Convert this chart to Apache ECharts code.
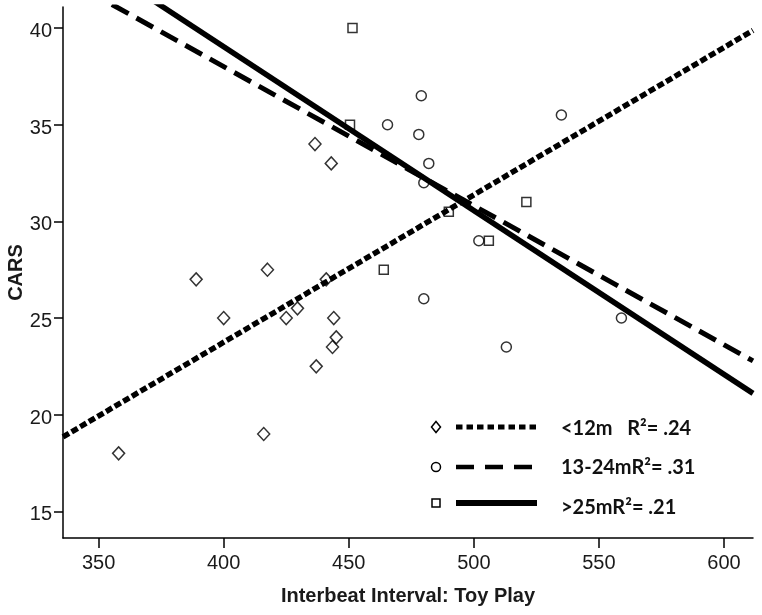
<!DOCTYPE html>
<html>
<head>
<meta charset="utf-8">
<script src="https://cdn.jsdelivr.net/npm/echarts@6/dist/echarts.min.js"></script>
<style>
html,body{margin:0;padding:0;background:#fff;}
#chart{width:762px;height:615px;}
</style>
</head>
<body>
<div id="chart"></div>
<script>
// Tick labels
const xTicks = [350, 400, 450, 500, 550, 600];
const yTicks = [15, 20, 25, 30, 35, 40];

// Scatter data [Interbeat Interval, CARS]
const under12 = [[358,18],[389,27],[400,25],[416,19],[417.5,27.5],[425,25],[429.5,25.5],[436.5,34],[437,22.5],[441,27],[443,33],[443.5,23.5],[444,25],[445,24]];
const m13to24 = [[465.5,35],[478,34.5],[479,36.5],[480,32],[480,26],[482,33],[502,29],[513,23.5],[535,35.5],[559,25]];
const over25 = [[450.5,35],[451.5,40],[464,27.5],[490,30.5],[506,29],[521,31]];

// Fit line end points
const fitUnder12 = [[335.77,18.85],[611.6,39.88]];
const fit13to24 = [[335.77,42.63],[611.6,22.78]];
const fitOver25 = [[335.77,44.48],[611.6,21.1]];

// Legend labels
const legendLabels = ['<12m   R\u00B2= .24', '13-24mR\u00B2= .31', '>25mR\u00B2= .21'];

const chart = echarts.init(document.getElementById('chart'));
const axisFont = "'Liberation Sans', Arial, sans-serif";
const black = '#000';

function legendRow(i, y, textY, symbol, lineStyle) {
  const children = [];
  if (symbol === 'diamond') {
    children.push({type:'polygon', shape:{points:[[436,y-5.5],[440.5,y],[436,y+5.5],[431.5,y]]}, style:{fill:'none', stroke:black, lineWidth:1.5}});
  } else if (symbol === 'circle') {
    children.push({type:'circle', shape:{cx:436, cy:y, r:4.5}, style:{fill:'none', stroke:black, lineWidth:1.5}});
  } else {
    children.push({type:'rect', shape:{x:432, y:y-4, width:8, height:8}, style:{fill:'none', stroke:black, lineWidth:1.5}});
  }
  children.push({type:'line', shape:{x1:456, y1:y, x2:537, y2:y}, style:Object.assign({stroke:black, fill:null}, lineStyle)});
  children.push({type:'text', x:561, y:textY, style:{text:legendLabels[i], font:"bold 20px Lato, 'Open Sans', sans-serif", fill:'#111', textVerticalAlign:'middle', textAlign:'left'}});
  return children;
}

const option = {
  animation: false,
  backgroundColor: '#fff',
  grid: {left: 63, right: 9, top: 7, bottom: 77, containLabel: false, outerBoundsMode: 'none'},
  xAxis: {
    type: 'value', min: 335.77, max: 611.6,
    name: 'Interbeat Interval: Toy Play', nameLocation: 'middle', nameGap: 48, nameMoveOverlap: false,
    nameTextStyle: {fontFamily: axisFont, fontWeight: 'bold', fontSize: 20, color: '#1a1a1a'},
    axisLine: {show: true, lineStyle: {color: black, width: 1.5}},
    axisTick: {show: true, length: 10, lineStyle: {color: black, width: 1.5}, customValues: xTicks},
    axisLabel: {show: true, margin: 15, fontFamily: axisFont, fontSize: 20, color: '#1a1a1a', customValues: xTicks},
    splitLine: {show: false}
  },
  yAxis: {
    type: 'value', min: 13.62, max: 41.09,
    name: 'CARS', nameLocation: 'middle', nameGap: 37, nameRotate: 90, nameMoveOverlap: false,
    nameTextStyle: {fontFamily: axisFont, fontWeight: 'bold', fontSize: 20, color: '#1a1a1a'},
    axisLine: {show: true, lineStyle: {color: black, width: 1.5}},
    axisTick: {show: true, length: 9, lineStyle: {color: black, width: 1.5}, customValues: yTicks},
    axisLabel: {show: true, margin: 11, fontFamily: axisFont, fontSize: 20, color: '#1a1a1a', customValues: yTicks,
      formatter: '{a|{value}}', rich: {a: {fontFamily: axisFont, fontSize: 20, color: '#1a1a1a', padding: [7, 0, 0, 0]}}},
    splitLine: {show: false}
  },
  series: [
    {type:'scatter', data: under12, symbol:'diamond', symbolSize:[12,13], itemStyle:{color:'rgba(0,0,0,0)', borderColor:black, borderWidth:1.5}, z:2, silent:true},
    {type:'scatter', data: m13to24, symbol:'circle', symbolSize:10, itemStyle:{color:'rgba(0,0,0,0)', borderColor:black, borderWidth:1.5}, z:2, silent:true},
    {type:'scatter', data: over25, symbol:'rect', symbolSize:9, itemStyle:{color:'rgba(0,0,0,0)', borderColor:black, borderWidth:1.5}, z:2, silent:true},
    {type:'line', data: fitUnder12, showSymbol:false, clip:true, lineStyle:{color:black, width:5.5, type:[7,3], cap:'butt'}, z:3, silent:true},
    {type:'line', data: fit13to24, showSymbol:false, clip:true, lineStyle:{color:black, width:5, type:[19,9], cap:'butt'}, z:3, silent:true},
    {type:'line', data: fitOver25, showSymbol:false, clip:true, lineStyle:{color:black, width:5.5}, z:3, silent:true}
  ],
  graphic: [
    {type:'group', children: [].concat(
      legendRow(0, 427, 428.5, 'diamond', {lineWidth:5, lineDash:[6.5,4]}),
      legendRow(1, 467, 468, 'circle', {lineWidth:4.5, lineDash:[18,11]}),
      legendRow(2, 503, 508, 'rect', {lineWidth:6})
    )}
  ]
};
chart.setOption(option);
</script>
</body>
</html>
